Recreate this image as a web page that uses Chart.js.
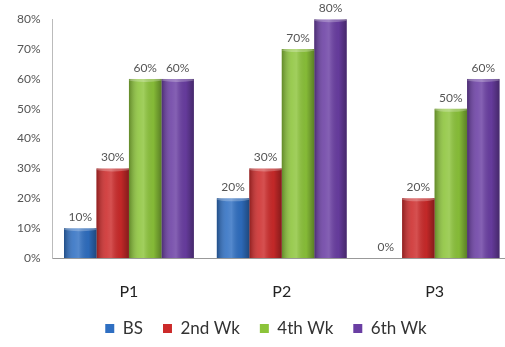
<!DOCTYPE html>
<html>
<head>
<meta charset="utf-8">
<script src="https://cdn.jsdelivr.net/npm/chart.js@4.4.1/dist/chart.umd.min.js"></script>
<style>
  html, body { margin: 0; padding: 0; background: #fff; overflow: hidden; }
  #wrap { width: 512px; height: 347px; }
</style>
</head>
<body>
<div id="wrap"><canvas id="chart"></canvas></div>
<script>
const categories = ['P1', 'P2', 'P3'];
const seriesNames = ['BS', '2nd Wk', '4th Wk', '6th Wk'];
const bsValues = [10, 20, 0];
const wk2Values = [30, 30, 20];
const wk4Values = [60, 70, 50];
const wk6Values = [60, 80, 60];
const yTicks = [0, 10, 20, 30, 40, 50, 60, 70, 80];

const colors = ['#2f6fc2', '#cc2a2a', '#8cc43a', '#6a3ea3'];
const allValues = [bsValues, wk2Values, wk4Values, wk6Values];

// overlay a horizontal shine so the bars read like cylinders
const cylinderPlugin = {
  id: 'cylinder',
  afterDatasetsDraw(chart) {
    const ctx = chart.ctx;
    chart.data.datasets.forEach((ds, i) => {
      chart.getDatasetMeta(i).data.forEach((bar, j) => {
        if (!ds.data[j]) return;
        const { x, y, base, width } = bar.getProps(['x', 'y', 'base', 'width'], true);
        const left = x - width / 2;
        const g = ctx.createLinearGradient(left, 0, left + width, 0);
        g.addColorStop(0, 'rgba(0,0,0,0.30)');
        g.addColorStop(0.3, 'rgba(255,255,255,0.12)');
        g.addColorStop(0.45, 'rgba(255,255,255,0.18)');
        g.addColorStop(0.75, 'rgba(0,0,0,0.05)');
        g.addColorStop(1, 'rgba(0,0,0,0.35)');
        ctx.save();
        ctx.fillStyle = g;
        ctx.fillRect(left, y, width, base - y);
        // top cap
        ctx.beginPath();
        ctx.ellipse(x, y + 1, width / 2, 2, 0, 0, Math.PI * 2);
        ctx.fillStyle = 'rgba(255,255,255,0.25)';
        ctx.fill();
        ctx.restore();
      });
    });
  }
};

const valueLabels = {
  id: 'valueLabels',
  afterDatasetsDraw(chart) {
    const ctx = chart.ctx;
    ctx.save();
    ctx.font = '12px Lato, sans-serif';
    ctx.fillStyle = '#555';
    ctx.textAlign = 'center';
    ctx.textBaseline = 'bottom';
    chart.data.datasets.forEach((ds, i) => {
      chart.getDatasetMeta(i).data.forEach((bar, j) => {
        ctx.fillText(ds.data[j] + '%', bar.x, bar.y - 5);
      });
    });
    ctx.restore();
  }
};

// legend in the original sits a little right of the canvas centre
const legendShift = {
  id: 'legendShift',
  afterLayout(chart) {
    chart.legend.left += 16;
  }
};

new Chart(document.getElementById('chart'), {
  type: 'bar',
  data: {
    labels: categories,
    datasets: seriesNames.map((name, i) => ({
      label: name,
      data: allValues[i],
      backgroundColor: colors[i],
      borderWidth: 0,
      categoryPercentage: 0.85,
      barPercentage: 1
    }))
  },
  options: {
    responsive: true,
    maintainAspectRatio: false,
    animation: false,
    layout: { padding: { top: 7, right: 1, left: 5, bottom: 0 } },
    plugins: {
      legend: {
        position: 'bottom',
        labels: {
          boxWidth: 9,
          boxHeight: 9,
          padding: 20,
          color: '#333',
          font: { family: 'Lato, sans-serif', size: 17 }
        }
      },
      tooltip: { enabled: false }
    },
    scales: {
      x: {
        grid: { display: false, drawTicks: false },
        border: { color: '#999' },
        afterFit(axis) { axis.height = 42; },
        ticks: {
          padding: 24,
          color: '#222',
          font: { family: 'Lato, sans-serif', size: 16 }
        }
      },
      y: {
        min: 0,
        max: 80,
        afterBuildTicks(axis) {
          axis.ticks = yTicks.map((v) => ({ value: v }));
        },
        grid: { display: false, drawTicks: false },
        border: { color: '#bbb' },
        ticks: {
          padding: 12,
          color: '#555',
          font: { family: 'Lato, sans-serif', size: 12 },
          callback: (value) => value + '%'
        }
      }
    }
  },
  plugins: [cylinderPlugin, valueLabels, legendShift]
});
</script>
</body>
</html>
